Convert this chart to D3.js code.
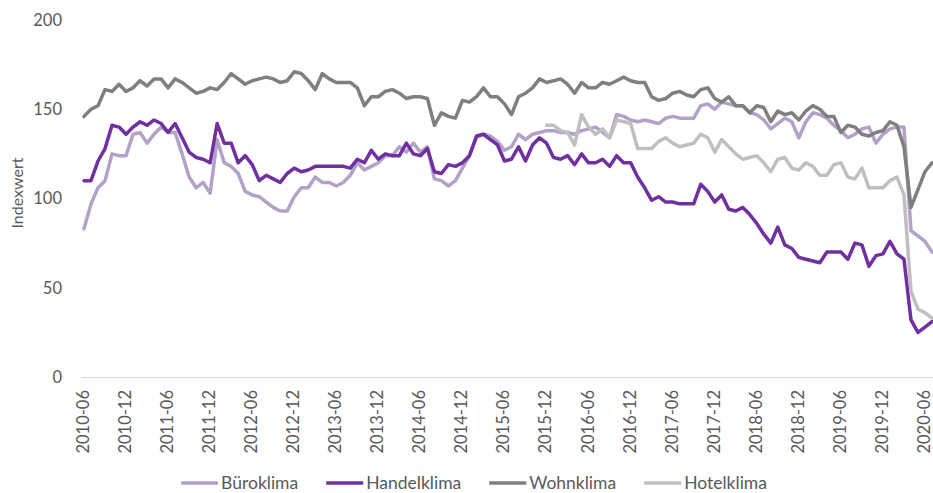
<!DOCTYPE html>
<html>
<head>
<meta charset="utf-8">
<script src="https://cdn.jsdelivr.net/npm/d3@7"></script>
<style>
    body { margin: 0; background: #fff; }
    svg text { font-family: Lato, 'Open Sans', sans-serif; fill: #595959; }
</style>
</head>
<body>
<svg id="chart" width="933" height="493"></svg>
<script>
'use strict';

/** categories: one per month, 2010-06 .. 2020-07 */
var months = d3.timeMonth.range(new Date(2010, 5, 1), new Date(2020, 7, 1)).map(d3.timeFormat('%Y-%m'));

var tickLabels = ['2010-06', '2010-12', '2011-06', '2011-12', '2012-06', '2012-12', '2013-06',
    '2013-12', '2014-06', '2014-12', '2015-06', '2015-12', '2016-06', '2016-12', '2017-06',
    '2017-12', '2018-06', '2018-12', '2019-06', '2019-12', '2020-06'];

var yTicks = [0, 50, 100, 150, 200];

var buero = [83, 97, 106, 110, 125, 124, 124, 136, 137, 131,
    136, 140, 137, 137, 125, 112, 106, 109, 103, 133,
    120, 118, 114, 104, 102, 101, 98, 95, 93, 93,
    101, 106, 106, 112, 109, 109, 107, 109, 113, 120,
    116, 118, 120, 124, 124, 129, 126, 131, 126, 129,
    111, 110, 107, 110, 117, 124, 134, 136, 135, 132,
    127, 129, 136, 133, 136, 137, 138, 138, 137, 137,
    136, 138, 139, 140, 137, 134, 147, 146, 144, 143,
    144, 143, 142, 145, 146, 145, 145, 145, 152, 153,
    150, 154, 153, 152, 152, 148, 147, 144, 139, 142,
    145, 143, 134, 143, 148, 147, 145, 141, 138, 134,
    136, 139, 140, 131, 136, 139, 140, 140, 82, 79,
    76, 70];

var handel = [110, 110, 121, 128, 141, 140, 136, 140, 143, 141,
    144, 142, 137, 142, 134, 126, 123, 122, 120, 142,
    131, 131, 120, 124, 119, 110, 113, 111, 109, 114,
    117, 115, 116, 118, 118, 118, 118, 118, 117, 122,
    120, 127, 122, 125, 124, 124, 131, 125, 124, 128,
    115, 114, 119, 118, 120, 124, 135, 136, 133, 130,
    121, 122, 129, 121, 130, 134, 131, 123, 122, 124,
    119, 125, 120, 120, 122, 118, 124, 120, 120, 112,
    106, 99, 101, 98, 98, 97, 97, 97, 108, 104,
    98, 102, 94, 93, 95, 91, 86, 80, 75, 84,
    74, 72, 67, 66, 65, 64, 70, 70, 70, 66,
    75, 74, 62, 68, 69, 76, 69, 66, 32, 25,
    28, 31];

var wohnen = [146, 150, 152, 161, 160, 164, 160, 162, 166, 163,
    167, 167, 162, 167, 165, 162, 159, 160, 162, 161,
    165, 170, 167, 164, 166, 167, 168, 167, 165, 166,
    171, 170, 166, 161, 170, 167, 165, 165, 165, 162,
    152, 157, 157, 160, 161, 159, 156, 157, 157, 156,
    141, 148, 146, 145, 155, 154, 157, 162, 157, 157,
    153, 147, 157, 159, 162, 167, 165, 166, 167, 164,
    159, 165, 162, 162, 165, 164, 166, 168, 166, 165,
    165, 157, 155, 156, 159, 160, 158, 157, 161, 162,
    156, 154, 157, 152, 152, 148, 152, 151, 143, 149,
    147, 148, 144, 149, 152, 150, 146, 146, 137, 141,
    140, 136, 135, 137, 138, 143, 141, 129, 95, 105,
    115, 120];

/** Hotelklima only starts in 2015-12 */
var hotelStart = '2015-12';
var hotel = [141, 141, 138, 137,
    130, 147, 140, 136, 139, 134, 144, 143, 142, 128,
    128, 128, 132, 134, 131, 129, 130, 131, 136, 134,
    126, 133, 129, 125, 122, 123, 124, 120, 115, 122,
    123, 117, 116, 120, 118, 113, 113, 119, 120, 112,
    111, 117, 106, 106, 106, 110, 112, 102, 48, 38,
    36, 33];

var w = 933,
    h = 493,
    fontSize = 16.5;

var svg = d3.select('#chart');

var x = d3.scaleBand()
    .domain(months)
    .range([80.5, 935.5]);

var y = d3.scaleLinear()
    .domain([0, 200])
    .range([377, 20]);

var hotelOffset = months.indexOf(hotelStart);

var series = [
    { name: 'Büroklima', color: '#B3A2C7', values: buero.map(function(v, i) { return { m: months[i], v: v }; }) },
    { name: 'Handelklima', color: '#7030A0', values: handel.map(function(v, i) { return { m: months[i], v: v }; }) },
    { name: 'Wohnklima', color: '#7F7F7F', values: wohnen.map(function(v, i) { return { m: months[i], v: v }; }) },
    { name: 'Hotelklima', color: '#BFBFBF', values: hotel.map(function(v, i) { return { m: months[hotelOffset + i], v: v }; }) }
];

/** Y AXIS */
var yAxis = svg.append('g')
    .attr('transform', 'translate(80,0)')
    .call(d3.axisLeft(y).tickValues(yTicks).tickSize(0).tickPadding(18));
yAxis.select('.domain').remove();
yAxis.selectAll('text')
    .attr('font-family', null)
    .style('font-size', fontSize + 'px');

svg.append('text')
    .attr('transform', 'translate(17,193) rotate(-90)')
    .attr('text-anchor', 'middle')
    .attr('dy', '0.35em')
    .style('font-size', '16px')
    .text('Indexwert');

/** X AXIS */
var xAxis = svg.append('g')
    .attr('transform', 'translate(0,377)')
    .call(d3.axisBottom(x).tickValues(tickLabels).tickSize(0).tickSizeOuter(0));
xAxis.select('.domain')
    .attr('stroke', '#D9D9D9')
    .attr('stroke-width', 1);
xAxis.selectAll('text')
    .attr('transform', 'rotate(-90)')
    .attr('text-anchor', 'end')
    .attr('x', -13)
    .attr('y', 0)
    .attr('dy', '0.3em')
    .style('font-size', fontSize + 'px');

/** LINES */
var line = d3.line()
    .x(function(d) { return x(d.m) + x.bandwidth() / 2; })
    .y(function(d) { return y(d.v); });

svg.append('g').selectAll('path')
    .data(series)
    .enter()
    .append('path')
    .attr('fill', 'none')
    .attr('stroke', function(d) { return d.color; })
    .attr('stroke-width', 3.5)
    .attr('stroke-linejoin', 'round')
    .attr('stroke-linecap', 'round')
    .attr('d', function(d) { return line(d.values); });

/** LEGEND */
var legend = svg.append('g');
var items = legend.selectAll('g')
    .data(series)
    .enter()
    .append('g');
items.append('line')
    .attr('x1', 0)
    .attr('x2', 37)
    .attr('y1', 0)
    .attr('y2', 0)
    .attr('stroke', function(d) { return d.color; })
    .attr('stroke-width', 3.5);
items.append('text')
    .attr('x', 40)
    .attr('dy', '0.35em')
    .style('font-size', '17.5px')
    .text(function(d) { return d.name; });

var gap = 28, pos = 0, offsets = [];
items.each(function() {
    offsets.push(pos);
    pos += 40 + this.querySelector('text').getComputedTextLength() + gap;
});
var legendWidth = pos - gap;
items.attr('transform', function(d, i) { return 'translate(' + offsets[i] + ',0)'; });
legend.attr('transform', 'translate(' + (474 - legendWidth / 2) + ',483)');
</script>
</body>
</html>
